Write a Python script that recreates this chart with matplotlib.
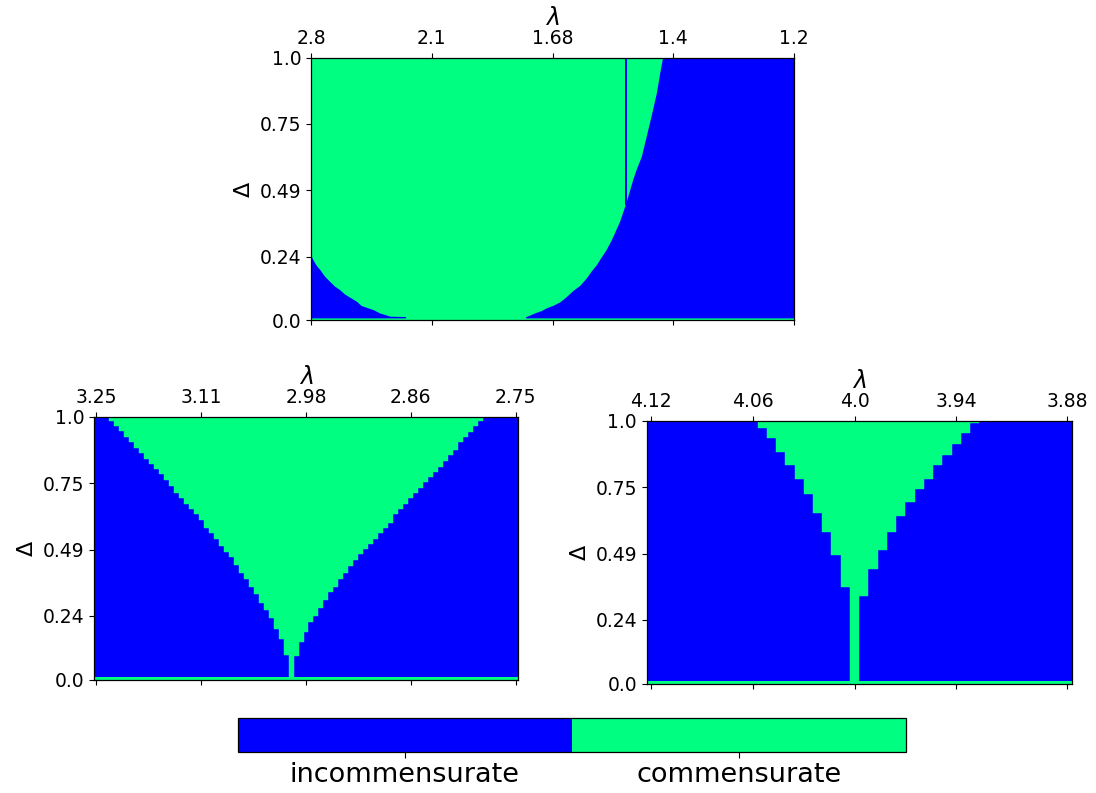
import numpy as np
import matplotlib
matplotlib.use("Agg")
import matplotlib.pyplot as plt
from matplotlib.colors import ListedColormap, BoundaryNorm
from matplotlib.patches import Polygon
from matplotlib.ticker import NullLocator, FixedLocator
import matplotlib as mpl

# ---------------- data ----------------
phase_labels = ["incommensurate", "commensurate"]
phase_colors = ["#0000ff", "#00ff80"]

delta_tick_values = [0.0, 0.2424, 0.4949, 0.7475, 1.0]
delta_tick_labels = ["0.0", "0.24", "0.49", "0.75", "1.0"]
base_row_delta = 0.008   # the Delta = 0 row is commensurate everywhere

# top panel (x = fraction across the lambda axis)
top_lambda_labels = ["2.8", "2.1", "1.68", "1.4", "1.2"]
top_left_u = [0.0, 0.0048, 0.0097, 0.0145, 0.0193, 0.0242, 0.029, 0.039, 0.0497,
              0.060, 0.070, 0.081, 0.095, 0.105, 0.129, 0.143, 0.165, 0.197]
top_left_delta = [0.249, 0.230, 0.214, 0.202, 0.192, 0.179, 0.167, 0.148, 0.129,
                  0.116, 0.0996, 0.087, 0.0715, 0.055, 0.040, 0.027, 0.0145, 0.013]
top_right_u = [0.445, 0.464, 0.478, 0.488, 0.502, 0.516, 0.529, 0.543, 0.557,
               0.571, 0.581, 0.592, 0.602, 0.612, 0.623, 0.633, 0.640, 0.647,
               0.654, 0.661, 0.667, 0.674, 0.685, 0.695, 0.705, 0.716, 0.723, 0.729]
top_right_delta = [0.012, 0.027, 0.036, 0.046, 0.056, 0.069, 0.088, 0.112, 0.131,
                   0.160, 0.186, 0.211, 0.240, 0.268, 0.306, 0.347, 0.376, 0.414,
                   0.452, 0.496, 0.534, 0.572, 0.623, 0.699, 0.775, 0.864, 0.940, 1.0]
top_gap_u = 0.652          # single incommensurate lambda column
top_gap_width = 0.0025
top_gap_delta_low = 0.44

# bottom-left panel (x = lambda column index)
bl_lambda_labels = ["3.25", "3.11", "2.98", "2.86", "2.75"]
bl_n_cols = 85
bl_first_col = 3
bl_threshold = [0.983, 0.964, 0.945, 0.924, 0.903, 0.882, 0.863, 0.841, 0.822, 0.802,
                0.782, 0.761, 0.739, 0.710, 0.691, 0.669, 0.650, 0.630, 0.608, 0.576,
                0.557, 0.535, 0.509, 0.487, 0.468, 0.436, 0.405, 0.382, 0.353, 0.324,
                0.292, 0.265, 0.233, 0.192, 0.153, 0.093,
                0.0,
                0.089, 0.141, 0.182, 0.220, 0.243, 0.273, 0.303, 0.332, 0.353, 0.384,
                0.405, 0.434, 0.455, 0.477, 0.496, 0.516, 0.535, 0.557, 0.576, 0.598,
                0.630, 0.650, 0.669, 0.691, 0.710, 0.731, 0.752, 0.773, 0.792, 0.811,
                0.833, 0.854, 0.873, 0.903, 0.924, 0.943, 0.964, 0.983]

# bottom-right panel
br_lambda_labels = ["4.12", "4.06", "4.0", "3.94", "3.88"]
br_n_cols = 46
br_first_col = 12
br_threshold = [0.974, 0.934, 0.883, 0.831, 0.779, 0.721, 0.651, 0.577, 0.490, 0.368,
                0.0,
                0.333, 0.436, 0.507, 0.577, 0.639, 0.690, 0.740, 0.779, 0.831, 0.870,
                0.912, 0.953, 0.994]

# ---------------- figure ----------------
W, H = 1096, 793
fig = plt.figure(figsize=(W / 100, H / 100), dpi=100)
BLUE, GREEN = phase_colors
TICK_FS = 13.5


def px_axes(l, t, r, b):
    return fig.add_axes([l / W, 1 - b / H, (r - l) / W, (b - t) / H])


def style(ax, xt, xl):
    ax.set_ylim(0, 1)
    ax.set_yticks(delta_tick_values)
    ax.set_yticklabels(delta_tick_labels, fontsize=TICK_FS)
    ax.set_xticks(xt)
    ax.set_xticklabels(xl, fontsize=TICK_FS)
    ax.tick_params(axis="x", top=True, labeltop=True, bottom=True, labelbottom=False,
                   direction="out", length=3.5, width=0.8)
    ax.tick_params(axis="y", left=True, right=False, direction="out", length=3.5, width=0.8)
    ax.xaxis.set_label_position("top")
    ax.set_xlabel(r"$\lambda$", fontsize=17, labelpad=3)
    ax.set_ylabel("Δ", fontsize=16, labelpad=4)
    for s in ax.spines.values():
        s.set_linewidth(0.9)
        s.set_color("black")


# --- top panel ---
ax = px_axes(311, 57.5, 794, 320.5)
ax.set_facecolor(GREEN)
left_poly = [(0.0, base_row_delta)] + list(zip(top_left_u, top_left_delta)) + \
            [(top_left_u[-1], base_row_delta)]
right_poly = [(top_right_u[0], base_row_delta)] + list(zip(top_right_u, top_right_delta)) + \
             [(1.0, 1.0), (1.0, base_row_delta)]
ax.add_patch(Polygon(left_poly, closed=True, facecolor=BLUE, edgecolor="none"))
ax.add_patch(Polygon(right_poly, closed=True, facecolor=BLUE, edgecolor="none"))
ax.bar(top_gap_u, 1 - top_gap_delta_low, bottom=top_gap_delta_low, width=top_gap_width,
       color=BLUE, linewidth=0)
ax.set_xlim(0, 1)
style(ax, [0, 0.25, 0.5, 0.75, 1.0], top_lambda_labels)


def grid_panel(box, n_cols, first_col, thr, labels):
    ax = px_axes(*box)
    ax.set_facecolor(BLUE)
    cols = np.arange(first_col, first_col + len(thr))
    thr = np.asarray(thr)
    ax.bar(cols, 1 - thr, bottom=thr, width=1.0, align="edge", color=GREEN,
           linewidth=0.3, edgecolor=GREEN)
    ax.axhspan(0, base_row_delta, color=GREEN, lw=0)
    ax.set_xlim(0, n_cols)
    tick_cols = np.linspace(0, n_cols - 1, 5).astype(int) + 0.5
    style(ax, tick_cols, labels)
    return ax


grid_panel((94, 417, 518, 679.5), bl_n_cols, bl_first_col, bl_threshold, bl_lambda_labels)
grid_panel((646.7, 421, 1071.7, 683.5), br_n_cols, br_first_col, br_threshold, br_lambda_labels)

# --- colorbar ---
cax = px_axes(238, 718, 906, 752)
cmap = ListedColormap(phase_colors)
norm = BoundaryNorm([-0.5, 0.5, 1.5], cmap.N)
cb = fig.colorbar(mpl.cm.ScalarMappable(norm=norm, cmap=cmap), cax=cax,
                  orientation="horizontal")
cb.ax.xaxis.set_major_locator(FixedLocator([0, 1]))
cb.ax.xaxis.set_minor_locator(NullLocator())
cb.ax.set_xticklabels(phase_labels, fontsize=19.5)
cb.ax.tick_params(which="major", length=4, width=0.8)
cb.outline.set_linewidth(0.9)

fig.savefig("out.png", dpi=100)
